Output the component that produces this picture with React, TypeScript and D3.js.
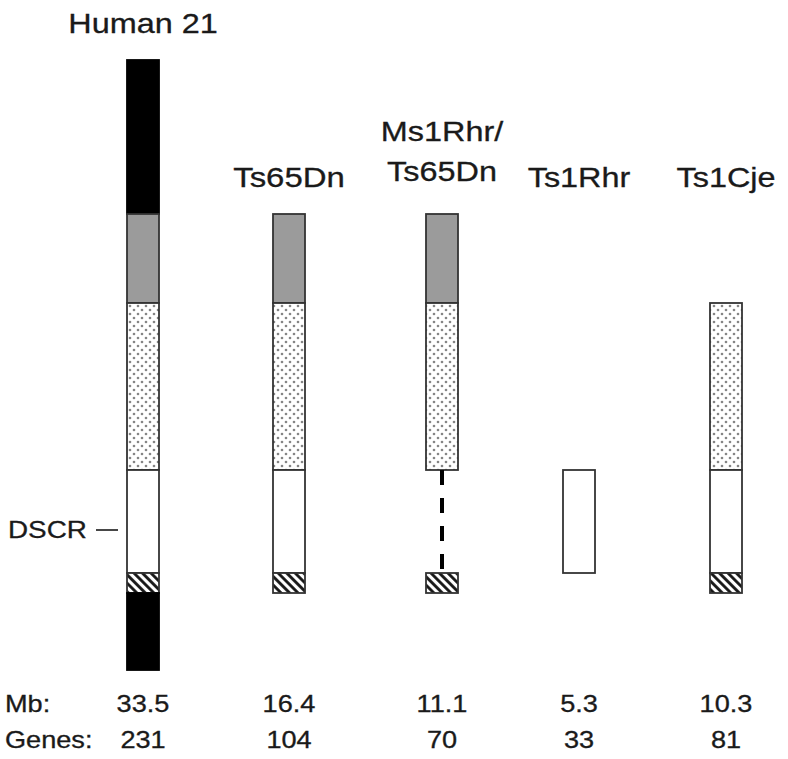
import React from 'react';
import * as d3 from 'd3';

// ---- data ----
const models = ["Human 21", "Ts65Dn", "Ms1Rhr/Ts65Dn", "Ts1Rhr", "Ts1Cje"];
const titleLines = [["Human 21"], ["Ts65Dn"], ["Ms1Rhr/", "Ts65Dn"], ["Ts1Rhr"], ["Ts1Cje"]];
const mbValues = ["33.5", "16.4", "11.1", "5.3", "10.3"];
const geneCounts = ["231", "104", "70", "33", "81"];

// chromosome regions (relative units along the chromosome)
const regionKinds = ["black", "gray", "stipple", "white", "hatch", "black"];
const regionStart = [0, 154, 243, 410, 513, 533];
const regionEnd = [154, 243, 410, 513, 533, 610];

// presence of each region per model: 1 = present, 2 = deleted (dashed), 0 = absent
const humanRegions = [1, 1, 1, 1, 1, 1];
const ts65DnRegions = [0, 1, 1, 1, 1, 0];
const ms1RhrRegions = [0, 1, 1, 2, 1, 0];
const ts1RhrRegions = [0, 0, 0, 1, 0, 0];
const ts1CjeRegions = [0, 0, 1, 1, 1, 0];
const modelRegions = [humanRegions, ts65DnRegions, ms1RhrRegions, ts1RhrRegions, ts1CjeRegions];

const dscrPos = 470;

const W = 788, H = 759;
const FONT = "Arial, 'Liberation Sans', Helvetica, sans-serif";

export default function App() {
  const x = d3.scaleOrdinal<string, number>().domain(models).range([143, 289, 442, 579, 726]);
  const y = d3.scaleLinear().domain([0, 610]).range([60, 670]);
  const barW = 32;

  const fillFor = (k: string) =>
    k === "black" ? "#000" : k === "gray" ? "#9b9b9b" : k === "stipple" ? "url(#stipple)" : k === "white" ? "#fff" : "url(#hatch)";

  const txt = (s: string, cx: number, by: number, size: number, anchor = "middle", key?: any, sx = 1.18) => (
    <text key={key} transform={`translate(${cx},${by}) scale(${sx},1)`} textAnchor={anchor}
      fontFamily={FONT} fontSize={size} fill="#1a1a1a" stroke="#1a1a1a" strokeWidth={0.3}>{s}</text>
  );

  return (
    <svg width={W} height={H} style={{ position: 'absolute', left: 0, top: 0, background: '#fff' }}>
      <defs>
        <pattern id="stipple" width="8" height="8" patternUnits="userSpaceOnUse">
          <rect width="8" height="8" fill="#fff" />
          <circle cx="2" cy="2" r="1.3" fill="#858585" />
          <circle cx="6" cy="6" r="1.3" fill="#858585" />
        </pattern>
        <pattern id="hatch" width="6" height="6" patternUnits="userSpaceOnUse" patternTransform="rotate(-45)">
          <rect width="6" height="6" fill="#fff" />
          <line x1="1.5" y1="0" x2="1.5" y2="6" stroke="#111" strokeWidth="2.8" />
        </pattern>
      </defs>

      {models.map((m, i) => {
        const cx = x(m);
        const regs = modelRegions[i];
        return (
          <g key={m}>
            {regs.map((p, r) => {
              if (p === 1) {
                const k = regionKinds[r];
                return (
                  <rect key={r} x={cx - barW / 2} y={y(regionStart[r])} width={barW}
                    height={y(regionEnd[r]) - y(regionStart[r])}
                    fill={fillFor(k)} stroke={k === "black" ? "#000" : "#333"} strokeWidth={1.8} />
                );
              }
              if (p === 2) {
                return (
                  <line key={r} x1={cx} x2={cx} y1={y(regionStart[r])} y2={y(regionEnd[r])}
                    stroke="#000" strokeWidth={4} strokeDasharray="15 13" />
                );
              }
              return null;
            })}
          </g>
        );
      })}

      {/* titles */}
      {txt(titleLines[0][0], x(models[0]), 33, 27, "middle", "t0", 1.2)}
      {txt(titleLines[1][0], x(models[1]), 187, 27, "middle", "t1", 1.22)}
      {txt(titleLines[2][0], x(models[2]), 141, 27, "middle", "t2a", 1.2)}
      {txt(titleLines[2][1], x(models[2]), 181, 27, "middle", "t2b", 1.2)}
      {txt(titleLines[3][0], x(models[3]), 187, 27, "middle", "t3", 1.2)}
      {txt(titleLines[4][0], x(models[4]), 187, 27, "middle", "t4", 1.2)}

      {/* DSCR */}
      {txt("DSCR", 8, y(dscrPos) + 8, 24, "start", "dscr", 1.16)}
      <line x1={96} x2={118} y1={y(dscrPos)} y2={y(dscrPos)} stroke="#333" strokeWidth={1.8} />

      {/* bottom rows */}
      {txt("Mb:", 5, 712, 23, "start", "mb")}
      {txt("Genes:", 5, 748, 23, "start", "gn")}
      {models.map((m, i) => txt(mbValues[i], x(m), 712, 23, "middle", "mbv" + i))}
      {models.map((m, i) => txt(geneCounts[i], x(m), 748, 23, "middle", "gv" + i))}
    </svg>
  );
}
